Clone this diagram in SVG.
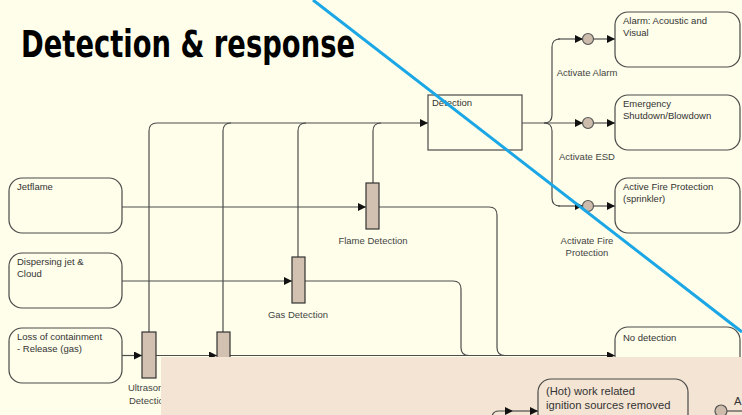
<svg xmlns="http://www.w3.org/2000/svg" width="742" height="415" viewBox="0 0 742 415">
  <defs>
    <marker id="arr" viewBox="0 0 8 8" refX="8" refY="4" markerWidth="8" markerHeight="8" markerUnits="userSpaceOnUse" orient="auto">
      <path d="M0,0 L8,4 L0,8 z" fill="#111"/>
    </marker>
    <style>
      .bg { fill: #fefeea; }
      .node { fill: #fefeea; stroke: #4a4a4a; stroke-width: 1.2; }
      .bar { fill: #d2c1b0; stroke: #333; stroke-width: 1.2; }
      .gate { fill: #cdbcab; stroke: #555; stroke-width: 1.2; }
      .wire { fill: none; stroke: #4d4d4d; stroke-width: 1.2; }
      .arrow { marker-end: url(#arr); }
      .lbl { font-family: "Liberation Sans", Arial, sans-serif; font-size: 9.5px; fill: #333; }
      .cap { font-family: "Liberation Sans", Arial, sans-serif; font-size: 9.5px; fill: #444; text-anchor: middle; }
      .big { font-family: "Liberation Sans", Arial, sans-serif; font-size: 11.2px; fill: #333; }
      .title { font-family: "DejaVu Sans", "Liberation Sans", sans-serif; font-weight: bold; font-stretch: condensed; font-size: 37px; fill: #000; }
    </style>
  </defs>

  <rect class="bg" x="0" y="0" width="742" height="415"/>

  <text class="title" x="21" y="57" textLength="334" lengthAdjust="spacingAndGlyphs">Detection &amp; response</text>

  <!-- connectors -->
  <g id="connectors">
    <!-- detector outputs merging into Detection -->
    <path class="wire arrow" d="M149,332 V131 Q149,123 157,123 H428"/>
    <path class="wire" d="M223,332 V131 Q223,123 231,123"/>
    <path class="wire" d="M298,257 V131 Q298,123 306,123"/>
    <path class="wire" d="M373,183 V131 Q373,123 381,123"/>

    <!-- inputs into detectors -->
    <path class="wire arrow" d="M122,207 H366"/>
    <path class="wire arrow" d="M122,281 H292"/>
    <path class="wire arrow" d="M122,355.5 H142"/>
    <path class="wire arrow" d="M156,355.5 H217"/>

    <!-- detector pass-through to No detection -->
    <path class="wire" d="M379,207 H489 Q497,207 497,215 V347.5 Q497,355.5 505,355.5"/>
    <path class="wire" d="M305,281 H453 Q461,281 461,289 V347.5 Q461,355.5 469,355.5"/>
    <path class="wire arrow" d="M230,355.5 H615"/>

    <!-- Detection to responses -->
    <path class="wire" d="M522,123 H544 Q552,123 552,115 V47 Q552,39 560,39"/>
    <path class="wire" d="M544,123 Q552,123 552,131 V198 Q552,206 560,206"/>
    <path class="wire arrow" d="M558,39 H583"/>
    <path class="wire arrow" d="M544,123 H583"/>
    <path class="wire arrow" d="M558,206 H583"/>
    <path class="wire arrow" d="M593,39 H615"/>
    <path class="wire arrow" d="M593,123 H615"/>
    <path class="wire arrow" d="M593,206 H615"/>
  </g>

  <!-- initiating events -->
  <g id="jetflame">
    <rect class="node" x="9" y="178" width="113" height="55" rx="13"/>
    <text class="lbl" x="17" y="190">Jetflame</text>
  </g>
  <g id="dispersing">
    <rect class="node" x="9" y="253" width="113" height="55" rx="13"/>
    <text class="lbl" x="17" y="265">Dispersing jet &amp;</text>
    <text class="lbl" x="17" y="277">Cloud</text>
  </g>
  <g id="loss">
    <rect class="node" x="9" y="328" width="113" height="55" rx="13"/>
    <text class="lbl" x="17" y="340">Loss of containment</text>
    <text class="lbl" x="17" y="352">- Release (gas)</text>
  </g>

  <!-- detectors -->
  <g id="flame-detection">
    <rect class="bar" x="366" y="183" width="13" height="46"/>
    <text class="cap" x="373" y="244">Flame Detection</text>
  </g>
  <g id="gas-detection">
    <rect class="bar" x="292" y="257" width="13" height="46"/>
    <text class="cap" x="298" y="318">Gas Detection</text>
  </g>
  <g id="ultrasonic-1">
    <rect class="bar" x="142" y="332" width="14" height="46"/>
    <text class="cap" x="149" y="391">Ultrasonic</text>
    <text class="cap" x="149" y="404">Detection</text>
  </g>
  <g id="ultrasonic-2">
    <rect class="bar" x="217" y="332" width="13" height="46"/>
  </g>

  <!-- detection logic -->
  <g id="detection">
    <rect class="node" x="428" y="95" width="94" height="55"/>
    <text class="lbl" x="432" y="106">Detection</text>
  </g>

  <!-- response gates -->
  <g id="gate-alarm">
    <circle class="gate" cx="588" cy="39" r="5.5"/>
    <text class="cap" x="587" y="76">Activate Alarm</text>
  </g>
  <g id="gate-esd">
    <circle class="gate" cx="588" cy="123" r="5.5"/>
    <text class="cap" x="587" y="160">Activate ESD</text>
  </g>
  <g id="gate-fire">
    <circle class="gate" cx="588" cy="206" r="5.5"/>
    <text class="cap" x="587" y="244">Activate Fire</text>
    <text class="cap" x="587" y="256">Protection</text>
  </g>

  <!-- outcomes -->
  <g id="alarm">
    <rect class="node" x="615" y="12" width="125" height="55" rx="13"/>
    <text class="lbl" x="623" y="24">Alarm: Acoustic and</text>
    <text class="lbl" x="623" y="36">Visual</text>
  </g>
  <g id="esd">
    <rect class="node" x="615" y="95" width="125" height="55" rx="13"/>
    <text class="lbl" x="623" y="107">Emergency</text>
    <text class="lbl" x="623" y="119">Shutdown/Blowdown</text>
  </g>
  <g id="fire-protection">
    <rect class="node" x="615" y="178" width="125" height="55" rx="13"/>
    <text class="lbl" x="623" y="190">Active Fire Protection</text>
    <text class="lbl" x="623" y="202">(sprinkler)</text>
  </g>
  <g id="no-detection">
    <rect class="node" x="615" y="327" width="125" height="55" rx="13"/>
    <text class="lbl" x="623" y="341">No detection</text>
  </g>

  <!-- lower panel -->
  <rect x="161" y="357" width="581" height="58" fill="#f3e4d3"/>
  <g id="hot-work">
    <path class="wire arrow" d="M492,418 Q492,411 499,411 H513"/>
    <path class="wire arrow" d="M513,411 H538"/>
    <rect class="node" x="538" y="379" width="150" height="55" rx="13" style="fill:#f3e4d3"/>
    <text class="big" x="546" y="395">(Hot) work related</text>
    <text class="big" x="546" y="409">ignition sources removed</text>
  </g>
  <g id="gate-lower">
    <path class="wire" d="M727,411 H742"/>
    <circle class="gate" cx="721" cy="411" r="6"/>
    <text class="big" x="734" y="405">A</text>
  </g>

  <!-- overlay stroke -->
  <line x1="313" y1="0" x2="742" y2="332" stroke="#1ba6e6" stroke-width="3"/>
</svg>
